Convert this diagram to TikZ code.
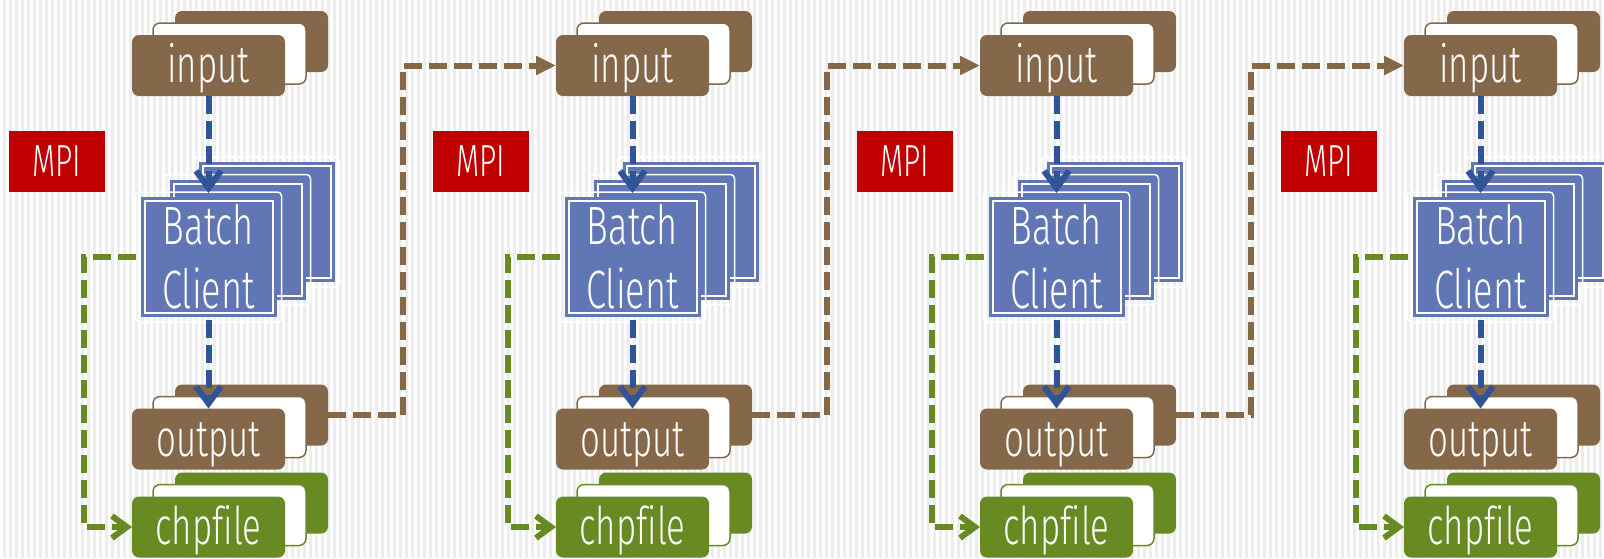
\documentclass[tikz,border=0pt]{standalone}
\usepackage{fontspec}
\setmainfont{Fira Sans}[UprightFont=* Light,FakeStretch=0.67,Ligatures=NoCommon]
\usetikzlibrary{arrows.meta,calc}
\definecolor{filebrown}{HTML}{85684A}
\definecolor{chpgreen}{HTML}{678A22}
\definecolor{bcblue}{HTML}{6176B5}
\definecolor{flowblue}{HTML}{2F5597}
\definecolor{mpired}{HTML}{C00000}
\definecolor{bggray}{HTML}{EDEDED}

\begin{document}
\begin{tikzpicture}[x=1pt,y=-1pt,
file/.style={shape=rectangle,rounded corners=7pt,minimum width=153pt,minimum height=61pt,inner sep=0pt,outer sep=0pt,text=white,font=\fontsize{52}{60}\selectfont,text height=45pt,text depth=11pt},
fileB/.style={file,fill=filebrown},
fileBW/.style={file,fill=white,draw=filebrown,line width=1.5pt},
fileG/.style={file,fill=chpgreen},
fileGW/.style={file,fill=white,draw=chpgreen,line width=1.5pt},
batch/.style={shape=rectangle,minimum width=128pt,minimum height=112pt,inner sep=0pt,outer sep=0pt,fill=bcblue,draw=bcblue,line width=3pt,double=white,double distance=2pt,text=white,align=center,font=\fontsize{54}{64}\selectfont},
halo/.style={draw=white,line width=1.5pt,rounded corners=4pt},
mpi/.style={shape=rectangle,fill=mpired,minimum width=96pt,minimum height=61pt,inner sep=0pt,text=white,font=\fontsize{45}{50}\selectfont},
flow/.style={line width=6pt,dash pattern=on 18pt off 7pt},
flowBl/.style={flow,draw=flowblue,-{Straight Barb[length=17pt,width=25pt]}},
flowGr/.style={flow,draw=chpgreen,-{Straight Barb[length=15pt,width=22pt]}},
flowBr/.style={flow,draw=filebrown,-{Triangle[length=20pt,width=18pt]}}]
\def\dx{424}
\def\dyf{12}
\useasboundingbox (0,0) rectangle (1604,558);

% striped background
\fill[bggray] (0,0) rectangle (1604,558);
\foreach \x in {0,6,...,1602}
  \fill[white] (\x,0) rectangle ++(2.5,558);

\foreach \i in {1,...,4} {
  \pgfmathsetmacro\cx{208.5+\dx*(\i-1)}

  \node[mpi] (mpi\i) at (\cx-151.5,161.5) {MPI};

  % batch client stack
  \node[batch] (bcc\i) at (\cx+58,222) {};
  \draw[halo] ($(bcc\i.north west)+(-9,-9)$) rectangle ($(bcc\i.south east)+(9,9)$);
  \node[batch] (bcb\i) at (\cx+29,239.5) {};
  \draw[halo] ($(bcb\i.north west)+(-9,-9)$) rectangle ($(bcb\i.south east)+(9,9)$);
  \node[batch] (bc\i) at (\cx,257) {Batch\\Client};
  \draw[halo] ($(bc\i.north west)+(-9,-9)$) rectangle ($(bc\i.south east)+(9,9)$);

  % input files
  \node[fileB] (inc\i) at (\cx+43,65.5-24) {};
  \node[fileBW] (inb\i) at (\cx+21,65.5-\dyf) {};
  \node[fileB] (in\i) at (\cx,65.5) {input};

  % output files
  \node[fileB] (outc\i) at (\cx+43,439-24) {};
  \node[fileBW] (outb\i) at (\cx+21,439-\dyf) {};
  \node[fileB] (out\i) at (\cx,439) {output};

  % checkpoint files
  \node[fileG] (chpc\i) at (\cx+43,527-24) {};
  \node[fileGW] (chpb\i) at (\cx+21,527-\dyf) {};
  \node[fileG] (chp\i) at (\cx,527) {chpfile};

  \draw[flowBl,shorten >=8pt] (in\i.south) -- (bc\i.north);
  \draw[flowBl,shorten <=7pt] (bc\i.south) -- (out\i.north);
  \draw[flowGr,shorten <=9pt] (bc\i.west) -- ++(-61,0) |- (chp\i.west);
}

% output of one step feeds the input of the next
\foreach \i in {1,2,3} {
  \pgfmathtruncatemacro\j{\i+1}
  \draw[flowBr] (outc\i.east) -- ++(75,0) |- (in\j.west);
}
\end{tikzpicture}
\end{document}
